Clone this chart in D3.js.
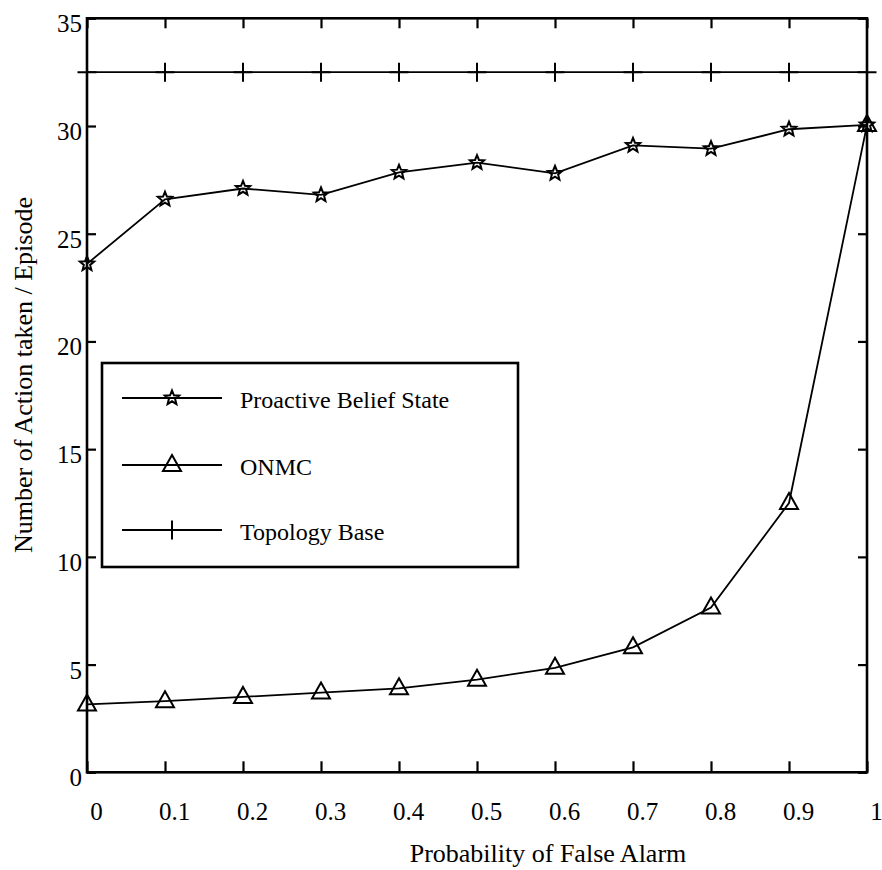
<!DOCTYPE html>
<html>
<head>
<meta charset="utf-8">
<script src="https://cdn.jsdelivr.net/npm/d3@7"></script>
<style>
  html, body { margin: 0; padding: 0; background: #fff; }
  svg { display: block; }
  text { font-family: "Liberation Serif", "Times New Roman", serif; fill: #000; }
</style>
</head>
<body>
<svg id="chart" width="882" height="870"></svg>
<script>
// Probability of false alarm (x) and actions per episode for each method
const falseAlarm = [0, 0.1, 0.2, 0.3, 0.4, 0.5, 0.6, 0.7, 0.8, 0.9, 1];
const proactiveBelief = [23.6, 26.6, 27.1, 26.8, 27.85, 28.3, 27.8, 29.1, 28.95, 29.85, 30.05];
const onmc = [3.15, 3.3, 3.5, 3.7, 3.9, 4.3, 4.85, 5.8, 7.65, 12.5, 30.05];
const topologyBase = [32.5, 32.5, 32.5, 32.5, 32.5, 32.5, 32.5, 32.5, 32.5, 32.5, 32.5];

const xTickValues = [0, 0.1, 0.2, 0.3, 0.4, 0.5, 0.6, 0.7, 0.8, 0.9, 1];
const xTickLabels = ["0", "0.1", "0.2", "0.3", "0.4", "0.5", "0.6", "0.7", "0.8", "0.9", "1"];
const yTickValues = [0, 5, 10, 15, 20, 25, 30, 35];
const yTickLabels = ["0", "5", "10", "15", "20", "25", "30", "35"];

const seriesNames = ["Proactive Belief State", "ONMC", "Topology Base"];

const svg = d3.select("#chart");
const plotLeft = 87, plotRight = 867, plotTop = 18.3, plotBottom = 772.3;

const x = d3.scaleLinear().domain([0, 1]).range([plotLeft, plotRight]);
const y = d3.scaleLinear().domain([0, 35]).range([plotBottom, plotTop]);

// marker shapes
function starPath(ro, ri) {
  const pts = [];
  for (let i = 0; i < 10; i++) {
    const r = i % 2 === 0 ? ro : ri;
    const a = -Math.PI / 2 + i * Math.PI / 5;
    pts.push([r * Math.cos(a), r * Math.sin(a)]);
  }
  return "M" + pts.map(p => p[0].toFixed(2) + "," + p[1].toFixed(2)).join("L") + "Z";
}
const markerPaths = {
  star: starPath(7.5, 3.3),
  triangle: "M0,-10L9,6L-9,6Z",
  plus: "M-9.5,0H9.5M0,-9.5V9.5"
};

// axes: ticks point inward on all four sides
const gx = svg.append("g").attr("transform", `translate(0,${plotBottom})`)
  .call(d3.axisBottom(x).tickValues(xTickValues).tickSize(-11).tickPadding(30)
    .tickFormat((d, i) => xTickLabels[i]));
gx.selectAll("text").attr("font-size", 25).attr("dx", 9);

const gy = svg.append("g").attr("transform", `translate(${plotLeft},0)`)
  .call(d3.axisLeft(y).tickValues(yTickValues).tickSize(-9).tickPadding(5)
    .tickFormat((d, i) => yTickLabels[i]));
gy.selectAll("text").attr("font-size", 25).attr("dy", "0.54em");

svg.append("g").attr("transform", `translate(0,${plotTop})`)
  .call(d3.axisTop(x).tickValues(xTickValues).tickSize(-10).tickFormat(""));
svg.append("g").attr("transform", `translate(${plotRight},0)`)
  .call(d3.axisRight(y).tickValues(yTickValues).tickSize(-9).tickFormat(""));

svg.selectAll(".domain").remove();
svg.selectAll(".tick line").attr("stroke", "#000").attr("stroke-width", 2.2);
svg.selectAll(".tick text").attr("font-family", "Liberation Serif").attr("fill", "#000");

// plot frame
svg.append("rect")
  .attr("x", plotLeft).attr("y", plotTop)
  .attr("width", plotRight - plotLeft).attr("height", plotBottom - plotTop)
  .attr("fill", "none").attr("stroke", "#000").attr("stroke-width", 2.6);

// series
const series = [
  { name: seriesNames[0], values: proactiveBelief, marker: "star" },
  { name: seriesNames[1], values: onmc, marker: "triangle" },
  { name: seriesNames[2], values: topologyBase, marker: "plus" }
];

const line = d3.line().x(d => x(d[0])).y(d => y(d[1]));

series.forEach(s => {
  const pts = falseAlarm.map((fa, i) => [fa, s.values[i]]);
  svg.append("path").datum(pts)
    .attr("d", line)
    .attr("fill", "none").attr("stroke", "#000").attr("stroke-width", 1.8);
  svg.append("g").selectAll("path").data(pts).join("path")
    .attr("transform", d => `translate(${x(d[0])},${y(d[1])})`)
    .attr("d", markerPaths[s.marker])
    .attr("fill", "none").attr("stroke", "#000").attr("stroke-width", 2)
    .attr("stroke-linejoin", "miter");
});

// legend
const legend = svg.append("g");
legend.append("rect")
  .attr("x", 102).attr("y", 363).attr("width", 416).attr("height", 204)
  .attr("fill", "#fff").attr("stroke", "#000").attr("stroke-width", 2.6);
const rowY = [398, 465, 530];
series.forEach((s, i) => {
  const g = legend.append("g").attr("transform", `translate(0,${rowY[i]})`);
  g.append("line").attr("x1", 122).attr("x2", 222).attr("y1", 0).attr("y2", 0)
    .attr("stroke", "#000").attr("stroke-width", 1.8);
  g.append("path").attr("transform", "translate(172,0)")
    .attr("d", markerPaths[s.marker])
    .attr("fill", "none").attr("stroke", "#000").attr("stroke-width", 2);
  g.append("text").attr("x", 240).attr("y", 10)
    .attr("font-size", 24).text(s.name);
});

// axis titles
svg.append("text")
  .attr("x", (plotLeft + plotRight) / 2 + 71).attr("y", 862)
  .attr("text-anchor", "middle").attr("font-size", 26)
  .text("Probability of False Alarm");

svg.append("text")
  .attr("transform", "translate(32,375) rotate(-90)")
  .attr("text-anchor", "middle").attr("font-size", 26)
  .text("Number of Action taken / Episode");
</script>
</body>
</html>
